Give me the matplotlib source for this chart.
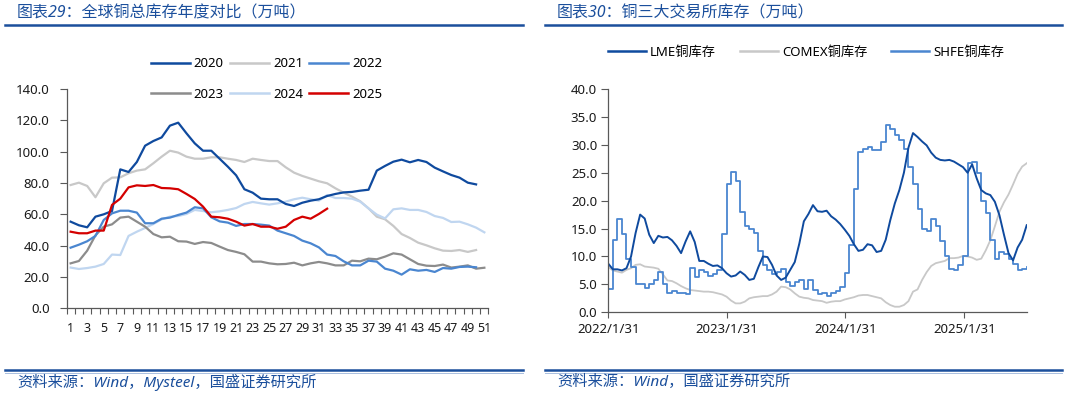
import numpy as np
import pandas as pd
import matplotlib
matplotlib.use("Agg")
import matplotlib.pyplot as plt
from matplotlib.lines import Line2D

plt.rcParams["font.family"] = ["Noto Sans", "Noto Sans CJK SC", "DejaVu Sans"]

# ---- 图表29 数据（万吨，按周） ----
weeks = np.arange(1, 52)

stock_2020 = [55.3, 53.0, 51.7, 58.5, 60.0, 62.1, 88.7, 87.0, 93.4, 103.8,
              106.8, 109.1, 116.6, 118.5, 111.7, 105.3, 100.6, 100.6, 95.5, 90.4,
              84.9, 76.0, 73.8, 70.0, 69.6, 69.6, 66.6, 65.3, 67.4, 68.7,
              69.6, 71.7, 73.0, 74.0, 74.3, 75.1, 75.7, 87.9, 90.9, 93.6,
              94.9, 93.2, 94.7, 93.4, 89.8, 87.4, 85.1, 83.4, 80.2, 79.1]
stock_2021 = [78.7, 80.2, 78.1, 70.9, 79.8, 83.4, 83.6, 86.2, 87.9, 88.7,
              92.6, 96.8, 100.6, 99.4, 96.8, 95.5, 95.5, 96.4, 96.4, 95.5,
              94.7, 93.4, 95.5, 94.7, 94.0, 94.0, 90.0, 86.6, 84.5, 82.8,
              81.1, 79.8, 76.6, 73.8, 71.3, 68.3, 63.8, 58.5, 56.8, 52.6,
              47.4, 44.9, 41.9, 40.2, 38.3, 36.8, 36.6, 37.2, 36.0, 37.2]
stock_2022 = [38.7, 40.6, 42.8, 46.2, 56.4, 60.6, 62.3, 62.3, 61.1, 54.3,
              54.3, 57.2, 57.9, 59.6, 61.1, 64.5, 63.8, 58.1, 55.5, 54.7,
              52.6, 53.8, 53.8, 53.4, 52.8, 49.6, 47.9, 46.2, 43.2, 41.5,
              38.9, 34.3, 33.4, 30.0, 27.4, 27.4, 30.4, 29.8, 25.3, 24.0,
              21.5, 24.9, 24.0, 24.5, 23.2, 25.7, 25.3, 26.4, 26.6, 26.2]
stock_2023 = [28.7, 30.2, 36.8, 46.6, 52.1, 53.6, 57.9, 58.5, 55.3, 52.1,
              47.4, 45.3, 45.7, 42.8, 42.6, 41.1, 42.3, 41.7, 39.4, 37.2,
              36.0, 34.5, 29.8, 29.8, 28.7, 28.1, 28.3, 29.1, 27.4, 28.7,
              29.6, 28.7, 27.4, 27.4, 30.4, 30.0, 31.7, 31.3, 33.0, 35.1,
              34.3, 31.3, 28.3, 27.2, 27.0, 27.9, 26.0, 26.6, 27.4, 25.3, 25.9]
stock_2024 = [26.0, 25.1, 25.7, 26.6, 28.3, 34.3, 34.0, 46.2, 48.9, 51.3,
              53.8, 56.8, 58.5, 58.9, 60.2, 62.8, 62.1, 61.3, 61.9, 62.8,
              64.0, 66.6, 67.9, 67.0, 66.2, 67.0, 68.1, 69.6, 70.6, 69.6,
              68.7, 72.3, 70.4, 70.4, 70.0, 68.1, 63.8, 59.8, 57.4, 63.2,
              63.8, 62.8, 62.8, 61.5, 58.9, 57.7, 55.1, 55.3, 53.6, 51.5, 48.5]
stock_2025 = [48.9, 47.9, 47.9, 49.6, 49.6, 66.0, 70.0, 77.2, 78.5, 78.1,
              78.7, 76.8, 76.6, 76.0, 73.0, 69.8, 64.9, 58.5, 58.1, 57.2,
              55.3, 52.8, 53.8, 52.1, 52.1, 50.8, 52.1, 56.4, 58.5, 57.2,
              60.2, 63.6]

year_labels = ["2020", "2021", "2022", "2023", "2024", "2025"]
year_colors = ["#0f4a9e", "#c8c8c8", "#4a86d0", "#8c8c8c", "#c0d6f0", "#d40000"]

# ---- 图表30 数据（万吨，双周采样） ----
dates = pd.date_range("2022-01-31", periods=93, freq="14D")

lme = [8.7, 7.7, 7.7, 7.5, 7.9, 10.0, 14.2, 17.5, 16.8, 13.9,
       12.4, 13.7, 13.4, 13.5, 12.9, 11.9, 10.6, 12.7, 14.5, 12.6,
       9.2, 9.2, 8.7, 8.3, 8.4, 7.9, 7.0, 6.4, 6.6, 7.3,
       6.7, 5.8, 6.0, 8.1, 10.0, 9.9, 8.5, 6.6, 5.8, 6.2,
       7.6, 9.0, 12.3, 16.3, 17.6, 19.2, 18.1, 18.0, 18.2, 17.2,
       16.6, 15.8, 14.8, 13.7, 12.2, 11.0, 11.2, 12.2, 12.0, 10.8,
       11.0, 13.0, 16.5, 19.5, 21.9, 25.0, 29.5, 32.1, 31.4, 30.6,
       29.9, 28.6, 27.7, 27.3, 27.2, 27.3, 27.0, 26.5, 26.0, 25.0,
       26.5, 24.0, 21.9, 21.3, 21.0, 19.8, 17.4, 13.9, 10.6, 9.3,
       11.6, 13.0, 15.6]
comex = [8.1, 7.5, 7.3, 7.1, 7.6, 7.9, 8.5, 8.6, 8.2, 8.1,
         8.0, 7.8, 6.8, 5.7, 5.6, 5.2, 4.7, 4.3, 4.0, 3.9,
         3.8, 3.7, 3.7, 3.6, 3.4, 3.2, 2.8, 2.1, 1.6, 1.6,
         1.9, 2.5, 2.7, 2.8, 2.9, 2.9, 3.2, 3.7, 4.6, 4.5,
         4.1, 3.4, 2.8, 2.6, 2.5, 2.2, 2.1, 2.0, 1.7, 1.9,
         2.0, 2.0, 2.3, 2.5, 2.7, 3.0, 3.1, 3.1, 2.9, 2.7,
         2.5, 1.8, 1.3, 1.0, 1.0, 1.3, 2.0, 3.7, 4.1, 5.8,
         7.2, 8.3, 8.8, 9.0, 9.2, 9.7, 9.7, 9.8, 10.1, 10.0,
         9.8, 9.4, 9.6, 11.1, 12.9, 15.4, 18.0, 19.7, 21.1, 22.9,
         24.8, 26.1, 26.7]
shfe = [4.1, 13.0, 16.8, 14.0, 9.5, 8.2, 5.0, 5.1, 4.3, 5.0,
        5.8, 7.2, 5.0, 3.5, 3.8, 3.5, 3.4, 3.3, 8.0, 6.3,
        7.5, 7.3, 6.5, 6.8, 7.5, 14.0, 23.0, 25.2, 23.5, 18.0,
        15.5, 15.0, 14.2, 11.0, 8.5, 7.5, 6.8, 7.2, 7.8, 5.5,
        4.7, 5.5, 5.8, 4.2, 5.8, 4.0, 3.3, 3.4, 3.0, 3.4,
        3.9, 4.6, 7.0, 12.0, 22.0, 28.8, 29.3, 29.6, 29.0, 29.1,
        30.5, 33.5, 32.8, 31.8, 30.8, 29.2, 26.0, 23.0, 18.5, 15.0,
        14.5, 16.8, 15.5, 12.8, 10.0, 7.8, 7.6, 8.5, 10.0, 26.7,
        27.0, 25.0, 20.0, 17.8, 13.0, 9.5, 10.8, 10.5, 9.5, 8.6,
        7.6, 7.8, 8.2]
exchange_ticks = ["2022-01-31", "2023-01-31", "2024-01-31", "2025-01-31"]

BLUE = "#1b4f9c"
SPINE = "#595959"
W, H = 1065, 396


def style_axis(ax, ypad):
    for side in ("top", "right"):
        ax.spines[side].set_visible(False)
    for side in ("left", "bottom"):
        ax.spines[side].set_color(SPINE)
        ax.spines[side].set_linewidth(0.9)
    ax.tick_params(which="both", direction="out", color=SPINE, width=0.8,
                   labelsize=9.5, labelcolor="#1a1a1a")
    ax.tick_params(axis="y", length=5, pad=ypad)


fig = plt.figure(figsize=(W / 100, H / 100), dpi=100)

# ---------- 左图：全球铜总库存年度对比 ----------
ax1 = fig.add_axes([66.5 / W, 1 - 308.3 / H, 422 / W, 219.3 / H])
series = [stock_2020, stock_2021, stock_2022, stock_2023, stock_2024, stock_2025]
draw_order = [1, 4, 3, 2, 0, 5]
for i in draw_order:
    vals = series[i]
    ax1.plot(weeks[:len(vals)], vals, color=year_colors[i], lw=1.6,
             solid_joinstyle="round")
ax1.set_xlim(0.5, 51.5)
ax1.set_ylim(0, 140)
ax1.set_yticks(np.arange(0, 141, 20))
ax1.set_yticklabels([f"{v:.1f}" for v in np.arange(0, 141, 20)])
ax1.set_xticks(weeks[::2])
ax1.set_xticklabels([str(w) for w in weeks[::2]])
ax1.set_xticks(np.arange(0.5, 52, 1), minor=True)
style_axis(ax1, 7)
ax1.tick_params(axis="x", which="major", length=0, pad=10, labelsize=9)
ax1.tick_params(axis="x", which="minor", length=4)

# 图例按行排列：2020 2021 2022 / 2023 2024 2025
legend_order = [0, 3, 1, 4, 2, 5]
handles = [Line2D([], [], color=year_colors[i], lw=1.8) for i in legend_order]
ax1.legend(handles, [year_labels[i] for i in legend_order], ncol=3, loc="center",
           bbox_to_anchor=(266.5 / W, 1 - 79 / H), bbox_transform=fig.transFigure,
           frameon=False, fontsize=9.5, handlelength=2.95, handletextpad=0.32,
           columnspacing=0.45, labelspacing=1.3)

# ---------- 右图：铜三大交易所库存 ----------
ax2 = fig.add_axes([608.3 / W, 1 - 312.3 / H, 418.4 / W, 223.3 / H])
ax2.plot(dates, comex, color="#c8c8c8", lw=1.3)
ax2.plot(dates, shfe, color="#4a86d0", lw=1.3, drawstyle="steps-post")
ax2.plot(dates, lme, color="#0f4a9e", lw=1.4)
ax2.set_xlim(dates[0], dates[-1])
ax2.set_ylim(0, 40)
ax2.set_yticks(np.arange(0, 41, 5))
ax2.set_yticklabels([f"{v:.1f}" for v in np.arange(0, 41, 5)])
tick_dates = pd.to_datetime(exchange_ticks)
ax2.set_xticks(tick_dates)
ax2.set_xticklabels([f"{d.year}/{d.month}/{d.day}" for d in tick_dates])
style_axis(ax2, 3)
ax2.tick_params(axis="x", length=4, pad=4)

h2 = [Line2D([], [], color=c, lw=1.8) for c in ("#0f4a9e", "#c8c8c8", "#4a86d0")]
ax2.legend(h2, ["LME铜库存", "COMEX铜库存", "SHFE铜库存"], ncol=3, loc="center",
           bbox_to_anchor=(806 / W, 1 - 52 / H), bbox_transform=fig.transFigure,
           frameon=False, fontsize=9.5, handlelength=2.9, handletextpad=0.3,
           columnspacing=1.8)

# ---------- 标题、分隔线与资料来源 ----------
for x0, x1 in ((5, 523), (545, 1062)):
    fig.add_artist(Line2D([x0 / W, x1 / W], [1 - 24.5 / H] * 2, color=BLUE, lw=1.8))
    fig.add_artist(Line2D([x0 / W, x1 / W], [1 - 370 / H] * 2, color=BLUE, lw=1.8))
    fig.add_artist(Line2D([x0 / W, x1 / W], [1 - 372.5 / H] * 2, color="#a9bedf", lw=0.7))

fig.text(17 / W, 1 - 13 / H, "图表29：全球铜总库存年度对比（万吨）", color=BLUE,
         fontsize=11.5, style="italic", va="center", ha="left")
fig.text(557 / W, 1 - 13 / H, "图表30：铜三大交易所库存（万吨）", color=BLUE,
         fontsize=11.5, style="italic", va="center", ha="left")
fig.text(17 / W, 1 - 382 / H, "资料来源：Wind，Mysteel，国盛证券研究所", color=BLUE,
         fontsize=11, style="italic", va="center", ha="left")
fig.text(557 / W, 1 - 382 / H, "资料来源：Wind，国盛证券研究所", color=BLUE,
         fontsize=11, style="italic", va="center", ha="left")

fig.savefig("out.png", dpi=100, facecolor="white")
